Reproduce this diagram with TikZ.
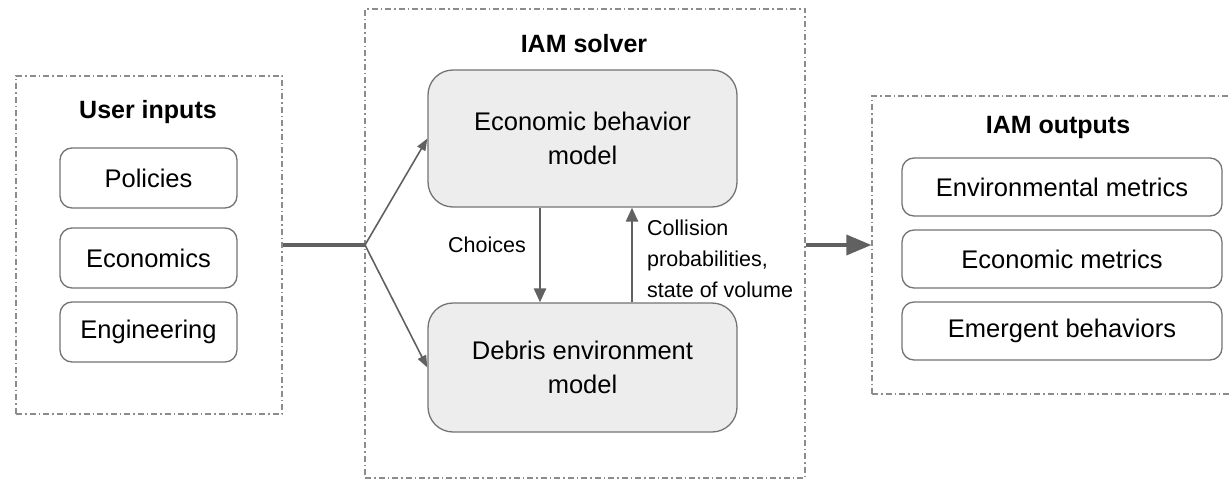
\documentclass[tikz,border=0pt]{standalone}
\usepackage{fontspec}
\setmainfont{Liberation Sans}
\usetikzlibrary{arrows.meta}

\begin{document}
\begin{tikzpicture}[x=1pt,y=-1pt]

\useasboundingbox (0,0) rectangle (1230,481);

% dash-dot frames
\begin{scope}[
    every node/.style={
        draw=black!45,
        line width=1.2pt,
        dash pattern=on 6pt off 3pt on 1.5pt off 3pt,
        inner sep=0pt}]

    \node[minimum width=266pt, minimum height=338pt] (inputs) at (149,245) {};
    \node[minimum width=440pt, minimum height=469pt] (solver) at (585,243.5) {};
    \node[minimum width=380pt, minimum height=298pt] (outputs) at (1062,245) {};
\end{scope}


\begin{scope}[
    every node/.style={
        font=\bfseries\fontsize{25}{30}\selectfont}]

    \node (inputstitle) at (148,112) {User inputs};
    \node (solvertitle) at (584,44) {IAM solver};
    \node (outputstitle) at (1058,127) {IAM outputs};
\end{scope}


\begin{scope}[
    every node/.style={
        draw=black!55,
        line width=1.3pt,
        rounded corners=12pt,
        fill=white,
        inner sep=0pt,
        font=\fontsize{25.5}{30}\selectfont}]

    \node[minimum width=177pt, minimum height=60pt] (policies) at (148.5,178) {Policies};
    \node[minimum width=177pt, minimum height=60pt] (economics) at (148.5,258) {Economics};
    \node[minimum width=177pt, minimum height=60pt] (engineering) at (148.5,332) {Engineering};

    \node[minimum width=320pt, minimum height=58pt] (envmetrics) at (1062,187) {Environmental metrics};
    \node[minimum width=320pt, minimum height=58pt] (ecometrics) at (1062,259) {Economic metrics};
    \node[minimum width=320pt, minimum height=58pt] (emergent) at (1062,331) {Emergent behaviors};
\end{scope}


\begin{scope}[
    every node/.style={
        draw=black!55,
        line width=1.3pt,
        rounded corners=25pt,
        fill=black!7,
        align=center,
        inner sep=0pt,
        font=\fontsize{25.5}{34}\selectfont}]

    \node[minimum width=309pt, minimum height=137pt] (econ) at (582.5,138.5) {Economic behavior\\model};
    \node[minimum width=309pt, minimum height=129pt] (debris) at (582.5,367.5) {Debris environment\\model};
\end{scope}


\coordinate (split) at (365,245);

\begin{scope}[every node/.style={font=\fontsize{21.5}{31}\selectfont, inner sep=0pt}]

    \node[anchor=east] (choiceslabel) at (526,245) {Choices};
    \node[anchor=west, align=left] (collisionlabel) at (647,259)
        {Collision\\probabilities,\\state of volume};
\end{scope}


\begin{scope}[draw=black!62]

    \draw[line width=3.5pt] (inputs.east) -- (split);
    \draw[line width=1.6pt, -{Triangle[length=12pt,width=9pt]}] (split) -- (econ.west);
    \draw[line width=1.6pt, -{Triangle[length=12pt,width=9pt]}] (split) -- (debris.west);

    \draw[line width=2.6pt, -{Triangle[length=14pt,width=12pt]}]
        ([xshift=-42.5pt]econ.south) -- ([xshift=-42.5pt]debris.north);
    \draw[line width=2.6pt, -{Triangle[length=14pt,width=12pt]}]
        ([xshift=49.5pt]debris.north) -- ([xshift=49.5pt]econ.south);

    \draw[line width=3.5pt, -{Triangle[length=25pt,width=20pt]}]
        (solver.east |- split) -- (outputs.west |- split);
\end{scope}

\end{tikzpicture}
\end{document}
